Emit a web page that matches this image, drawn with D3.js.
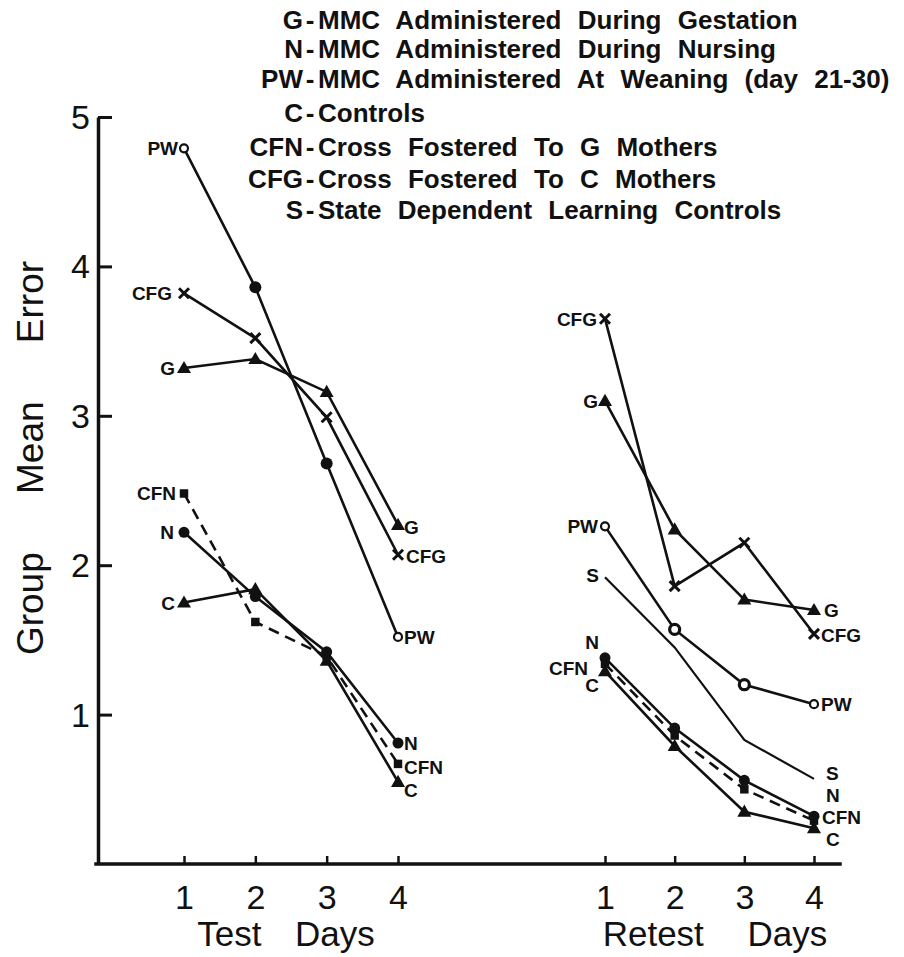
<!DOCTYPE html>
<html>
<head>
<meta charset="utf-8">
<script src="https://cdn.jsdelivr.net/npm/d3@7"></script>
<style>
  html, body { margin: 0; padding: 0; background: #fff; }
  svg { display: block; font-family: "Liberation Sans", Arial, sans-serif; }
  .axis path, .axis line { stroke: #111; }
  .axis text { fill: #111; font-size: 34px; font-family: "Liberation Sans", Arial, sans-serif; }
</style>
</head>
<body>
<div id="chart"></div>
<script>
// Mean error per day
const days = [1, 2, 3, 4];

const testG   = [3.32, 3.38, 3.16, 2.27];
const testCFG = [3.82, 3.52, 2.99, 2.07];
const testPW  = [4.79, 3.86, 2.68, 1.52];
const testCFN = [2.48, 1.62, 1.39, 0.67];
const testN   = [2.22, 1.79, 1.42, 0.81];
const testC   = [1.75, 1.84, 1.36, 0.55];

const retestCFG = [3.65, 1.86, 2.15, 1.54];
const retestG   = [3.10, 2.24, 1.77, 1.70];
const retestPW  = [2.26, 1.57, 1.20, 1.07];
const retestS   = [1.92, 1.45, 0.83, 0.57];
const retestN   = [1.38, 0.91, 0.56, 0.32];
const retestCFN = [1.34, 0.86, 0.50, 0.29];
const retestC   = [1.29, 0.79, 0.35, 0.24];

const yTicks = [1, 2, 3, 4, 5];
const xTicks = [1, 2, 3, 4];

const legendCodes = ["G", "N", "PW", "C", "CFN", "CFG", "S"];
const legendTexts = [
  "MMC Administered During Gestation",
  "MMC Administered During Nursing",
  "MMC Administered At Weaning (day 21-30)",
  "Controls",
  "Cross Fostered To G Mothers",
  "Cross Fostered To C Mothers",
  "State Dependent Learning Controls",
];

// Marker kind per group, dashed groups
const MARKER = { G: "triangle", CFG: "x", PW: "pw", CFN: "square", N: "dot", C: "triangle", S: "none" };
const DASHED = new Set(["CFN"]);

// Label placement: [group, side, dx, dy] relative to first/last point
const testLabels = [
  ["PW", "start", -6, 7], ["CFG", "start", -12, 7], ["G", "start", -9, 7],
  ["CFN", "start", -8, 7], ["N", "start", -10, 7], ["C", "start", -9, 7],
  ["G", "end", 6, 9], ["CFG", "end", 8, 8], ["PW", "end", 6, 7],
  ["N", "end", 6, 7], ["CFN", "end", 6, 10], ["C", "end", 6, 15],
];
const retestLabels = [
  ["CFG", "start", -8, 7], ["G", "start", -7, 7], ["PW", "start", -7, 7],
  ["S", "start", -6, 5], ["N", "start", -6, -9], ["CFN", "start", -17, 11],
  ["C", "start", -6, 21],
  ["G", "end", 10, 7], ["CFG", "end", 7, 8], ["PW", "end", 7, 7],
  ["S", "end", 12, 1], ["N", "end", 12, -14], ["CFN", "end", 8, 3], ["C", "end", 12, 18],
];

const INK = "#111";
const width = 904, height = 957;

const svg = d3.select("#chart").append("svg")
  .attr("width", width).attr("height", height)
  .attr("viewBox", `0 0 ${width} ${height}`);

const y = d3.scaleLinear().domain([0, 5]).range([864, 117]);
const xTest = d3.scaleLinear().domain([1, 4]).range([184, 398]);
const xRetest = d3.scaleLinear().domain([1, 4]).range([605, 814]);
const fmt = d3.format("d");

// y axis
const yAxis = svg.append("g").attr("class", "axis")
  .attr("transform", "translate(98,0)")
  .call(d3.axisLeft(y).tickValues(yTicks).tickFormat(fmt)
    .tickSize(-14).tickSizeOuter(0).tickPadding(8));
yAxis.select(".domain").attr("stroke-width", 3.5);
yAxis.selectAll(".tick line").attr("stroke-width", 3);
yAxis.selectAll(".tick text").attr("dy", "0.34em");

// x axes, one per panel, sharing one baseline
[xTest, xRetest].forEach(x => {
  const ax = svg.append("g").attr("class", "axis")
    .attr("transform", `translate(0,${y(0)})`)
    .call(d3.axisBottom(x).tickValues(xTicks).tickFormat(fmt)
      .tickSize(-8).tickSizeOuter(0).tickPadding(21));
  ax.select(".domain").remove();
  ax.selectAll(".tick line").attr("stroke-width", 2.5);
});
svg.append("line")
  .attr("x1", 96).attr("x2", 840).attr("y1", y(0)).attr("y2", y(0))
  .attr("stroke", INK).attr("stroke-width", 3.5).attr("stroke-linecap", "square");

// axis titles
svg.append("text")
  .attr("x", 286).attr("y", 946).attr("text-anchor", "middle")
  .attr("font-size", 35).attr("word-spacing", 24).attr("fill", INK)
  .text("Test Days");
svg.append("text")
  .attr("x", 715).attr("y", 946).attr("text-anchor", "middle")
  .attr("font-size", 35).attr("word-spacing", 34).attr("fill", INK)
  .text("Retest Days");
svg.append("text")
  .attr("transform", "translate(43,458) rotate(-90)")
  .attr("text-anchor", "middle")
  .attr("font-size", 37).attr("word-spacing", 48).attr("fill", INK)
  .text("Group Mean Error");

// legend
const LEGEND_BASELINES = [29, 58, 88, 122, 156, 188, 219];
const legend = svg.append("g").attr("font-weight", "bold").attr("font-size", 26).attr("fill", INK);
legendCodes.forEach((code, i) => {
  const by = LEGEND_BASELINES[i];
  legend.append("text").attr("x", 303).attr("y", by).attr("text-anchor", "end").text(code);
  legend.append("text").attr("x", 310).attr("y", by).attr("text-anchor", "middle").text("-");
  legend.append("text").attr("x", 318).attr("y", by).attr("word-spacing", 9).text(legendTexts[i]);
});

function drawMarker(g, kind, cx, cy, i, panel) {
  if (kind === "triangle") {
    g.append("path").attr("d", d3.symbol(d3.symbolTriangle).size(85)())
      .attr("transform", `translate(${cx},${cy + 1})`).attr("fill", INK);
  } else if (kind === "square") {
    g.append("path").attr("d", d3.symbol(d3.symbolSquare).size(72)())
      .attr("transform", `translate(${cx},${cy})`).attr("fill", INK);
  } else if (kind === "dot") {
    g.append("circle").attr("cx", cx).attr("cy", cy).attr("r", 5.5).attr("fill", INK);
  } else if (kind === "x") {
    const s = 5;
    g.append("path")
      .attr("d", `M${cx - s},${cy - s}L${cx + s},${cy + s}M${cx - s},${cy + s}L${cx + s},${cy - s}`)
      .attr("stroke", INK).attr("stroke-width", 3).attr("fill", "none");
  } else if (kind === "pw") {
    const end = i === 0 || i === days.length - 1;
    if (end) {
      g.append("circle").attr("cx", cx).attr("cy", cy).attr("r", 4)
        .attr("fill", "#fff").attr("stroke", INK).attr("stroke-width", 2.2);
    } else if (panel === "test") {
      g.append("circle").attr("cx", cx).attr("cy", cy).attr("r", 6).attr("fill", INK);
    } else {
      g.append("circle").attr("cx", cx).attr("cy", cy).attr("r", 5)
        .attr("fill", "#fff").attr("stroke", INK).attr("stroke-width", 3.2);
    }
  }
}

function drawPanel(panel, x, groups, labels) {
  const g = svg.append("g");
  const line = d3.line().x((d, i) => x(days[i])).y(d => y(d));

  groups.forEach(([key, values]) => {
    g.append("path")
      .datum(values)
      .attr("fill", "none")
      .attr("stroke", INK)
      .attr("stroke-width", key === "S" ? 2.2 : 2.6)
      .attr("stroke-dasharray", DASHED.has(key) ? "11,7" : null)
      .attr("d", line);
  });

  groups.forEach(([key, values]) => {
    values.forEach((v, i) => drawMarker(g, MARKER[key], x(days[i]), y(v), i, panel));
  });

  const byKey = new Map(groups);
  labels.forEach(([key, side, dx, dy]) => {
    const values = byKey.get(key);
    const i = side === "start" ? 0 : values.length - 1;
    g.append("text")
      .attr("x", x(days[i]) + dx)
      .attr("y", y(values[i]) + dy)
      .attr("text-anchor", side === "start" ? "end" : "start")
      .attr("font-size", 19).attr("font-weight", "bold").attr("fill", INK)
      .text(key);
  });
}

drawPanel("test", xTest, [
  ["G", testG], ["CFG", testCFG], ["PW", testPW],
  ["CFN", testCFN], ["N", testN], ["C", testC],
], testLabels);

drawPanel("retest", xRetest, [
  ["CFG", retestCFG], ["G", retestG], ["PW", retestPW], ["S", retestS],
  ["N", retestN], ["CFN", retestCFN], ["C", retestC],
], retestLabels);
</script>
</body>
</html>
